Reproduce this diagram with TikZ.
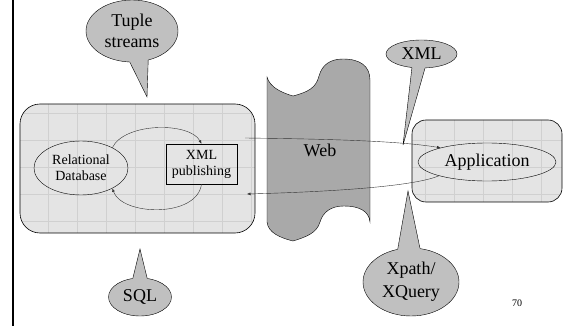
\documentclass[tikz,border=0pt]{standalone}
\usepackage{fontspec}
\setmainfont{Liberation Serif}
\usepackage{xcolor}
\usepackage{tikz}
\usetikzlibrary{arrows.meta,calc,shapes.geometric}
\definecolor{panelgray}{HTML}{E4E4E4}
\definecolor{panelgrid}{HTML}{D0D0D0}
\definecolor{bubblegray}{HTML}{C0C0C0}
\definecolor{webgray}{HTML}{A9A9A9}

\begin{document}
\begin{tikzpicture}[x=1pt,y=-1pt,
    bigfont/.style={font=\fontsize{18}{21}\selectfont},
    smallfont/.style={font=\fontsize{14}{16}\selectfont},
    bubble/.style={ellipse,draw,fill=bubblegray,inner sep=0pt,align=center,bigfont},
    flow/.style={-{Latex[length=3.5pt,width=3pt]},thin,black!80}]
    \useasboundingbox (0,0) rectangle (567,326);
    \draw[line width=2.5pt] (13,0) -- (13,326);

    % the two grey panels with their grid
    \foreach \xa/\ya/\xb/\yb/\rc in {20/104/255/233/20,412/120/562/202/14} {
      \begin{scope}
        \clip[rounded corners=\rc pt] (\xa,\ya) rectangle (\xb,\yb);
        \fill[panelgray] (\xa,\ya) rectangle (\xb,\yb);
        \foreach \gx in {0,...,17}
          \draw[panelgrid,line width=0.3pt] ({48+29*\gx},\ya) -- ({48+29*\gx},\yb);
        \foreach \gy in {0,...,4}
          \draw[panelgrid,line width=0.3pt] (\xa,{113+27*\gy}) -- (\xb,{113+27*\gy});
      \end{scope}
      \draw[semithick,rounded corners=\rc pt] (\xa,\ya) rectangle (\xb,\yb);
    }

    % the web
    \filldraw[fill=webgray,thin]
      (267,77) .. controls (270,88) and (283,93) .. (293,96)
      .. controls (308,92) and (316,88) .. (319,76)
      .. controls (322,65) and (330,59) .. (343,59)
      .. controls (360,59) and (370,66) .. (370,80) -- (370,222)
      .. controls (369,211) and (359,206) .. (344,206)
      .. controls (331,206) and (323,212) .. (320,222)
      .. controls (317,233) and (306,237) .. (293,241)
      .. controls (281,238) and (268,233) .. (267,222) -- cycle;
    \node[bigfont] (web) at (320,150) {Web};

    \node[ellipse,draw,minimum width=94pt,minimum height=54pt,inner sep=0pt,
      align=center,smallfont] (db) at (81,168) {Relational\\Database};
    \node[draw,minimum width=71pt,minimum height=40pt,inner sep=0pt,
      align=center,smallfont] (pub) at (201.5,164) {XML\\publishing};
    \node[ellipse,draw,minimum width=138pt,minimum height=38pt,inner sep=0pt,
      bigfont] (app) at (487,162) {Application};

    \coordinate (webout) at (245,138);
    \coordinate (webin) at (247,194);
    \draw[flow] (db.33) .. controls (125,122) and (190,122) .. (pub.north);
    \draw[flow] (pub.south) .. controls (197,218) and (122,216) .. (db.327);
    \draw[flow] (webout) .. controls (330,139) and (400,141) .. (app.163);
    \draw[flow] (app.196) .. controls (420,184) and (360,191) .. (webin);

    % callouts
    \node[bubble,minimum width=92pt,minimum height=62pt] (tuple) at (132,31)
      {Tuple\\streams};
    \node[bubble,minimum width=71pt,minimum height=28pt] (xml) at (421.5,54)
      {XML};
    \node[bubble,minimum width=96pt,minimum height=68pt] (xpath) at (411,282)
      {Xpath/\\[2pt]XQuery};
    \node[bubble,minimum width=63pt,minimum height=38pt] (sql) at (140,297)
      {SQL};
    \coordinate (tupletip) at (147,97);
    \coordinate (xmltip) at (403,145);
    \coordinate (xpathtip) at (408,191);
    \coordinate (sqltip) at (140,249);
    \foreach \callout/\tip/\pa/\pb in
      {tuple/tupletip/266/299,xml/xmltip/235/284,
       xpath/xpathtip/112/75,sql/sqltip/111/69} {
      \fill[bubblegray] (\tip) -- ($(\callout.\pa)!-4pt!(\tip)$)
        -- ($(\callout.\pb)!-4pt!(\tip)$) -- cycle;
      \draw (\callout.\pa) -- (\tip) -- (\callout.\pb);
    }

    \node[font=\fontsize{10}{12}\selectfont] (pagenum) at (517,303) {70};
\end{tikzpicture}
\end{document}
